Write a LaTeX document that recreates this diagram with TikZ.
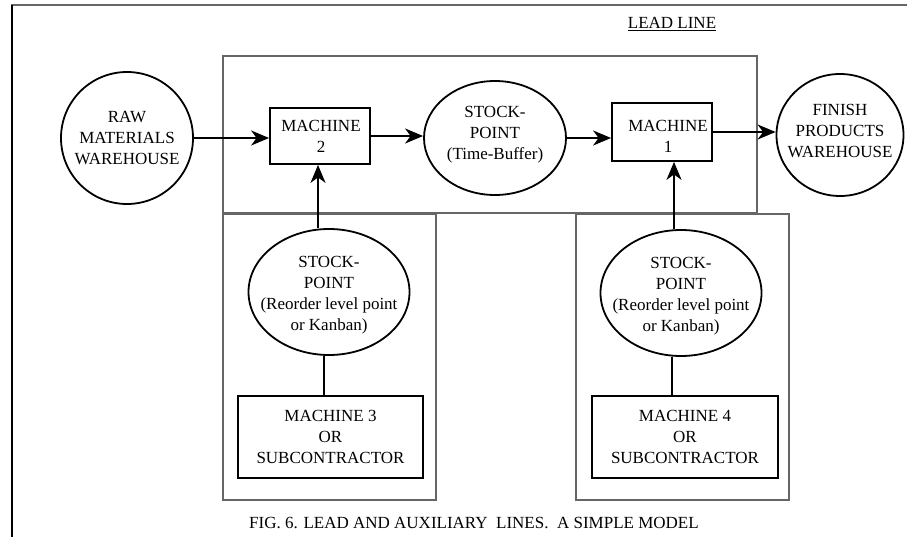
\documentclass[tikz,border=0pt]{standalone}
\usepackage{fontspec}
\setmainfont{Liberation Serif}
\usetikzlibrary{shapes.geometric,arrows.meta,calc}

\tikzset{
  txt/.style={font=\fontsize{17}{21}\selectfont, align=center, inner sep=0pt},
  shp/.style={draw=black, line width=1.8pt, inner sep=0pt},
  ovalnode/.style={shp, ellipse},
  boxnode/.style={shp, rectangle},
  frameline/.style={draw=black!60, line width=1.8pt},
  arr/.style={line width=2pt, -{Stealth[length=18pt,width=15pt,inset=5.5pt]}},
  link/.style={line width=2pt},
}

\begin{document}
\begin{tikzpicture}[x=1pt,y=-1pt]
\useasboundingbox (0,0) rectangle (907,537);

% page frame
\draw[draw=black!60, line width=1.6pt] (11,5) -- (907,5);
\draw[line width=2.4pt] (12,5) -- (12,537);

% lead line and auxiliary line enclosures
\draw[frameline] (223,56) rectangle (757,213);
\draw[frameline] (223,214) rectangle (436,500);
\draw[frameline] (576,214) rectangle (789,500);

\node[txt] (leadtitle) at (672,24) {\underline{LEAD LINE}};

% lead line
\node[ovalnode, minimum width=132pt, minimum height=132pt] (raw) at (127,138) {};
\node[txt] at (raw.center) {RAW\\MATERIALS\\WAREHOUSE};

\node[boxnode, minimum width=100pt, minimum height=56pt] (m2) at (320,136) {};
\node[txt] at ($(m2.center)+(1,0)$) {MACHINE\\2};

\node[ovalnode, minimum width=142pt, minimum height=114pt] (buf) at (495,138) {};
\node[txt] at ($(buf.center)+(0,-3)$) {STOCK-\\POINT\\(Time-Buffer)};

\node[boxnode, minimum width=100pt, minimum height=58pt] (m1) at (662,132) {};
\node[txt] at ($(m1.center)+(6,4)$) {MACHINE\\1};

\node[ovalnode, minimum width=127pt, minimum height=122pt] (fin) at (840,135) {};
\node[txt] at ($(fin.center)+(0,-4)$) {FINISH\\PRODUCTS\\WAREHOUSE};

% auxiliary lines
\node[ovalnode, minimum width=161pt, minimum height=126pt] (spl) at (329,292) {};
\node[txt] at ($(spl.center)+(0,3)$) {STOCK-\\POINT\\(Reorder level point\\or Kanban)};

\node[boxnode, minimum width=185pt, minimum height=82pt] (m3) at (330.5,437) {};
\node[txt] at (m3.center) {MACHINE 3\\OR\\SUBCONTRACTOR};

\node[ovalnode, minimum width=161pt, minimum height=126pt] (spr) at (681,293) {};
\node[txt] at ($(spr.center)+(0,3)$) {STOCK-\\POINT\\(Reorder level point\\or Kanban)};

\node[boxnode, minimum width=186pt, minimum height=82pt] (m4) at (685,437) {};
\node[txt] at (m4.center) {MACHINE 4\\OR\\SUBCONTRACTOR};

% flow along the lead line
\draw[arr] (raw.east) -- (raw.east -| m2.west);
\draw[arr] (m2.east) -- (m2.east -| buf.west);
\draw[arr] (buf.east) -- (buf.east -| m1.west);
\coordinate (outm1) at ($(m1.east)+(-2,0)$);
\draw[arr] (outm1) -- (outm1 -| fin.west);

% feeds from the auxiliary lines
\coordinate (feedl) at ($(spl.north)+(-11,0)$);
\draw[arr] (feedl) -- (feedl |- m2.south);
\coordinate (linkl) at ($(spl.south)+(-5,0)$);
\draw[link] (linkl) -- (linkl |- m3.north);
\coordinate (feedr) at ($(spr.north)+(-7,0)$);
\draw[arr] (feedr) -- (feedr |- m1.south);
\coordinate (linkr) at ($(spr.south)+(-9,0)$);
\draw[link] (linkr) -- (linkr |- m4.north);

\node[txt] (caption) at (474,523) {FIG. 6. LEAD AND AUXILIARY\ \ LINES.\ \ A SIMPLE MODEL};
\end{tikzpicture}
\end{document}
